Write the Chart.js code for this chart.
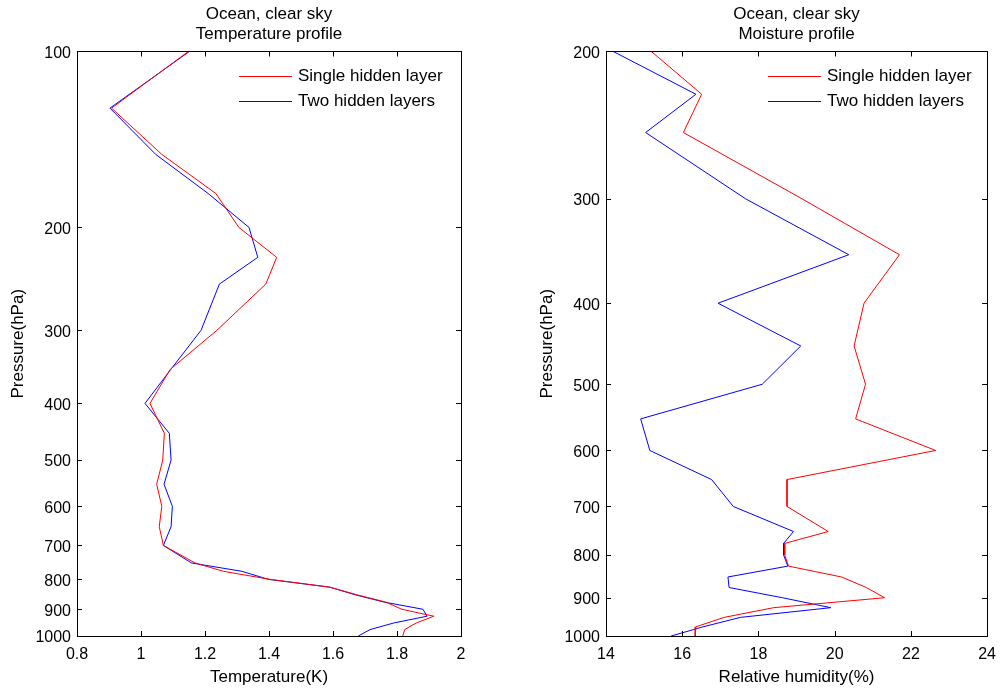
<!DOCTYPE html>
<html>
<head>
<meta charset="utf-8">
<title>Ocean, clear sky</title>
<script src="https://cdn.jsdelivr.net/npm/chart.js@4/dist/chart.umd.min.js"></script>
<style>
  html, body { margin: 0; padding: 0; background: #fff; }
  #wrap { position: relative; width: 1005px; height: 689px; }
  #tempChart { position: absolute; left: 0; top: 0; }
  #moistChart { position: absolute; left: 520px; top: 0; }
</style>
</head>
<body>
<div id="wrap">
  <canvas id="tempChart" width="500" height="689"></canvas>
  <canvas id="moistChart" width="485" height="689"></canvas>
</div>
<script>
// ---- data ----
const seriesLabels = ['Single hidden layer', 'Two hidden layers'];

// temperature panel
const tempLevels = [100, 125, 150, 175, 200, 225, 250, 300, 350, 400, 450, 500, 550, 600,
                    650, 700, 750, 775, 800, 825, 850, 875, 900, 925, 950, 975, 1000];
const tempSingle = [1.148, 0.908, 1.065, 1.234, 1.306, 1.424, 1.39, 1.237, 1.091, 1.028, 1.073, 1.068, 1.049, 1.065,
                    1.057, 1.07, 1.169, 1.257, 1.403, 1.59, 1.674, 1.765, 1.815, 1.915, 1.86, 1.824, 1.818];
const tempTwo    = [1.151, 0.903, 1.046, 1.21, 1.3375, 1.365, 1.245, 1.1875, 1.093, 1.0125, 1.0885, 1.094, 1.072, 1.098,
                    1.094, 1.07, 1.158, 1.315, 1.398, 1.59, 1.669, 1.76, 1.881, 1.894, 1.79, 1.716, 1.679];
const tempXTicks = [0.8, 1, 1.2, 1.4, 1.6, 1.8, 2];
const tempYTicks = [100, 200, 300, 400, 500, 600, 700, 800, 900, 1000];

// moisture panel
const moistLevels = [200, 225, 250, 300, 350, 400, 450, 500, 550, 600, 650, 700,
                     750, 775, 800, 825, 850, 875, 900, 925, 950, 975, 1000];
const rhSingle = [15.19, 16.51, 16.03, 19.14, 21.70, 20.77, 20.51, 20.81, 20.55, 22.65, 18.75, 18.75,
                  19.83, 18.69, 18.69, 18.79, 20.18, 20.83, 21.31, 18.40, 17.10, 16.36, 16.34];
const rhTwo    = [14.19, 16.36, 15.04, 17.66, 20.37, 16.94, 19.11, 18.10, 14.91, 15.15, 16.77, 17.34,
                  18.92, 18.66, 18.66, 18.77, 17.20, 17.23, 18.63, 19.90, 17.53, 16.55, 15.71];
const moistXTicks = [14, 16, 18, 20, 22, 24];
const moistYTicks = [200, 300, 400, 500, 600, 700, 800, 900, 1000];

// ---- styling ----
const FONT = "'Liberation Sans', Arial, Helvetica, sans-serif";
const RED = '#ff0000';
const BLUE = '#0000ff';

// box around the plot with inward tick marks on all four sides
const framePlugin = {
  id: 'frame',
  afterDraw(chart) {
    const { ctx, chartArea: a, scales } = chart;
    const len = 5;
    ctx.save();
    ctx.strokeStyle = '#000';
    ctx.lineWidth = 1;
    ctx.beginPath();
    scales.x.ticks.forEach(t => {
      const px = Math.round(scales.x.getPixelForValue(t.value)) + 0.5;
      ctx.moveTo(px, a.bottom); ctx.lineTo(px, a.bottom - len);
      ctx.moveTo(px, a.top);    ctx.lineTo(px, a.top + len);
    });
    scales.y.ticks.forEach(t => {
      const py = Math.round(scales.y.getPixelForValue(t.value)) + 0.5;
      ctx.moveTo(a.left, py);  ctx.lineTo(a.left + len, py);
      ctx.moveTo(a.right, py); ctx.lineTo(a.right - len, py);
    });
    ctx.stroke();
    ctx.strokeRect(Math.round(a.left) + 0.5, Math.round(a.top) + 0.5,
                   Math.round(a.right - a.left), Math.round(a.bottom - a.top));
    ctx.restore();
  }
};

// legend in the upper right of the plot area
const insideLegend = {
  id: 'insideLegend',
  afterDraw(chart) {
    const { ctx, chartArea: a } = chart;
    ctx.save();
    ctx.font = '17px ' + FONT;
    ctx.textBaseline = 'middle';
    ctx.fillStyle = '#000';
    chart.data.datasets.forEach((ds, i) => {
      const y = Math.round(a.top + 24.5 + 25.5 * i) + 0.5;
      ctx.strokeStyle = ds.borderColor;
      ctx.lineWidth = 1;
      ctx.beginPath();
      ctx.moveTo(a.left + 162, y);
      ctx.lineTo(a.left + 215, y);
      ctx.stroke();
      ctx.fillText(ds.label, a.left + 221, y);
    });
    ctx.restore();
  }
};

function profileChart(canvasId, cfg) {
  const makeSet = (vals, label, color) => ({
    label,
    data: cfg.levels.map((p, i) => ({ x: vals[i], y: p })),
    borderColor: color,
    backgroundColor: color,
    borderWidth: 1,
    pointRadius: 0,
    tension: 0,
    fill: false
  });

  return new Chart(document.getElementById(canvasId), {
    type: 'line',
    data: {
      datasets: [
        makeSet(cfg.single, seriesLabels[0], RED),
        makeSet(cfg.two, seriesLabels[1], BLUE)
      ]
    },
    options: {
      responsive: false,
      animation: false,
      events: [],
      layout: { padding: { right: cfg.padRight } },
      plugins: {
        legend: { display: false },
        tooltip: { enabled: false },
        title: {
          display: true,
          fullSize: false,
          text: cfg.title,
          color: '#000',
          font: { family: FONT, size: 17, weight: 'normal', lineHeight: 1.22 },
          padding: { top: 3.5, bottom: 6.5 }
        }
      },
      scales: {
        x: {
          type: 'linear',
          position: 'bottom',
          min: cfg.xTicks[0],
          max: cfg.xTicks[cfg.xTicks.length - 1],
          afterBuildTicks: s => { s.ticks = cfg.xTicks.map(v => ({ value: v })); },
          afterFit: s => { s.height = 53; },
          grid: { display: false, drawTicks: false },
          border: { display: false },
          ticks: {
            color: '#000',
            font: { family: FONT, size: 16 },
            padding: 9,
            maxRotation: 0,
            callback: v => String(v)
          },
          title: {
            display: true,
            text: cfg.xTitle,
            color: '#000',
            font: { family: FONT, size: 17 },
            padding: { top: 0, bottom: 1.5 }
          }
        },
        y: {
          type: 'logarithmic',
          position: 'left',
          reverse: true,
          min: cfg.yTicks[0],
          max: cfg.yTicks[cfg.yTicks.length - 1],
          afterBuildTicks: s => { s.ticks = cfg.yTicks.map(v => ({ value: v })); },
          afterFit: s => { s.width = cfg.yWidth; },
          grid: { display: false, drawTicks: false },
          border: { display: false },
          ticks: {
            color: '#000',
            font: { family: FONT, size: 16 },
            padding: 6,
            labelOffset: 2,
            callback: v => String(v)
          },
          title: {
            display: true,
            text: 'Pressure(hPa)',
            color: '#000',
            font: { family: FONT, size: 17 },
            padding: { top: cfg.yTitlePad, bottom: 0 }
          }
        }
      }
    },
    plugins: [framePlugin, insideLegend]
  });
}

profileChart('tempChart', {
  levels: tempLevels,
  single: tempSingle,
  two: tempTwo,
  xTicks: tempXTicks,
  yTicks: tempYTicks,
  title: ['Ocean, clear sky', 'Temperature profile'],
  xTitle: 'Temperature(K)',
  yWidth: 77,
  yTitlePad: 8,
  padRight: 39
});

profileChart('moistChart', {
  levels: moistLevels,
  single: rhSingle,
  two: rhTwo,
  xTicks: moistXTicks,
  yTicks: moistYTicks,
  title: ['Ocean, clear sky', 'Moisture profile'],
  xTitle: 'Relative humidity(%)',
  yWidth: 86,
  yTitlePad: 17,
  padRight: 15
});
</script>
</body>
</html>
